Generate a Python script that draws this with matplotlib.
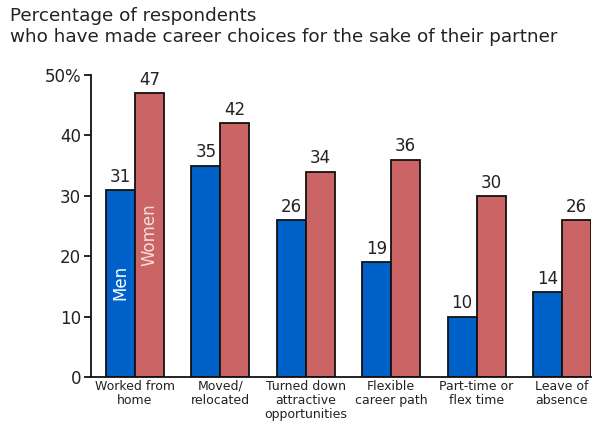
import numpy as np
import matplotlib
matplotlib.use("Agg")
import matplotlib.pyplot as plt

# data
categories = ["Worked from\nhome", "Moved/\nrelocated", "Turned down\nattractive\nopportunities",
              "Flexible\ncareer path", "Part-time or\nflex time", "Leave of\nabsence"]
men = [31, 35, 26, 19, 10, 14]
women = [47, 42, 34, 36, 30, 26]
yticks = [0, 10, 20, 30, 40, 50]
ytick_labels = ["0", "10", "20", "30", "40", "50%"]

blue = "#0062c8"
red = "#cb6464"
text_col = "#222222"

plt.rcParams['font.family'] = ['DejaVu Sans']

fig = plt.figure(figsize=(5.93, 4.23), dpi=100)
ax = fig.add_axes([91 / 593, 1 - 377 / 423, 500 / 593, 302 / 423])

x = np.arange(len(categories))
w = 0.34
ax.bar(x - w / 2, men, w, color=blue, edgecolor="#111111", linewidth=1.3, zorder=2)
ax.bar(x + w / 2, women, w, color=red, edgecolor="#111111", linewidth=1.3, zorder=2)

for i in range(len(categories)):
    ax.text(x[i] - w / 2, men[i] + 0.7, str(men[i]), ha="center", va="bottom",
            fontsize=12, color=text_col)
    ax.text(x[i] + w / 2, women[i] + 0.7, str(women[i]), ha="center", va="bottom",
            fontsize=12, color=text_col)

# series names written inside the first pair of bars
ax.text(x[0] - w / 2, 15.6, "Men", rotation=90, ha="center", va="center",
        fontsize=12, color="white")
ax.text(x[0] + w / 2, 23.5, "Women", rotation=90, ha="center", va="center",
        fontsize=12, color="#f6dede")

ax.set_xlim(-0.515, 5.34)
ax.set_ylim(0, 50)
ax.set_yticks(yticks)
ax.set_yticklabels(ytick_labels, fontsize=12, color=text_col)
ax.set_xticks(x)
ax.set_xticklabels(categories, fontsize=9, color=text_col, linespacing=1.12)
ax.tick_params(axis="x", length=0, pad=2)
ax.tick_params(axis="y", length=5, width=1.2, direction="out", pad=2)

for s in ["top", "right"]:
    ax.spines[s].set_visible(False)
for s in ["left", "bottom"]:
    ax.spines[s].set_linewidth(1.3)
    ax.spines[s].set_color("#111111")

fig.text(10 / 593, 1 - 7 / 423, "Percentage of respondents\nwho have made career choices for the sake of their partner",
         ha="left", va="top", fontsize=13.2, color=text_col, linespacing=1.2)

fig.savefig("out.png", dpi=100)
